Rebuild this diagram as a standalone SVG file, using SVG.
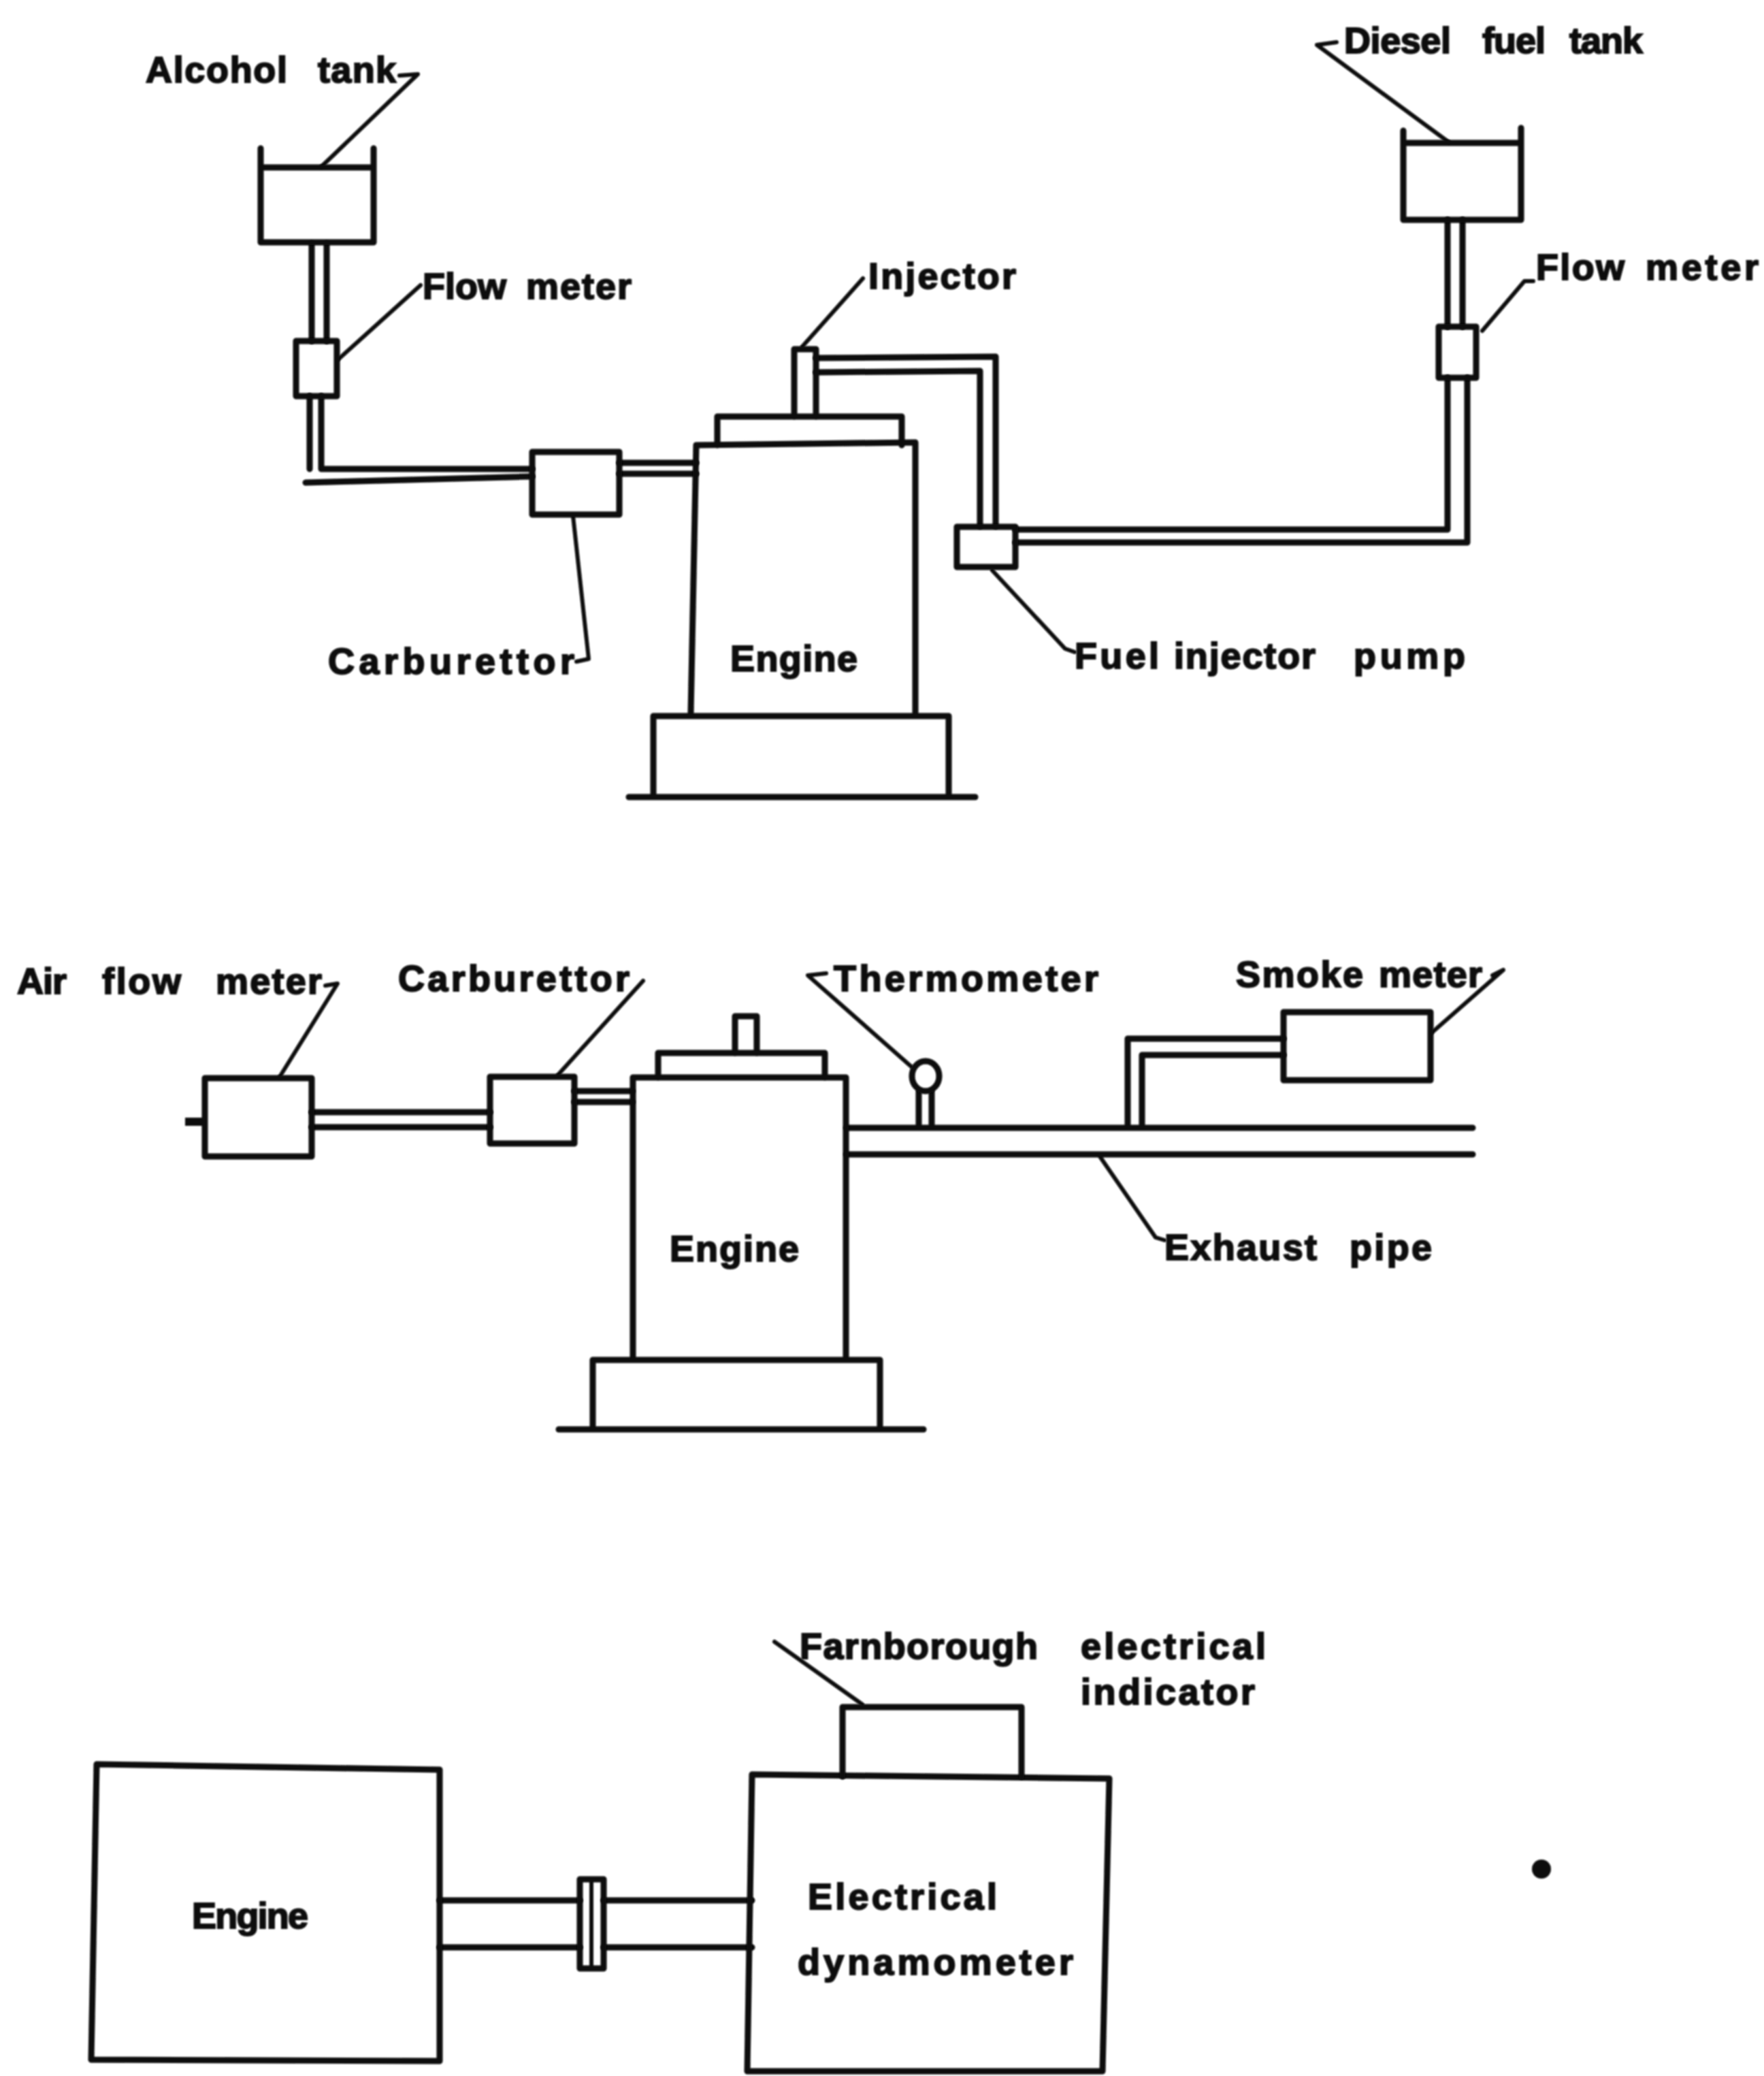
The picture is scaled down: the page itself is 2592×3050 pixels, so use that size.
<svg xmlns="http://www.w3.org/2000/svg" width="2592" height="3050" viewBox="0 0 2592 3050">
<defs><filter id="soft" x="0" y="0" width="2592" height="3050" filterUnits="userSpaceOnUse"><feGaussianBlur stdDeviation="0.9"/></filter></defs>
<style>
g{filter:url(#soft)}
.s{fill:none;stroke:#0a0a0a;stroke-width:9;stroke-linejoin:round;stroke-linecap:round}
.t{fill:none;stroke:#0a0a0a;stroke-width:6;stroke-linejoin:round;stroke-linecap:round}
.l{font-family:"Liberation Sans",Arial,sans-serif;font-weight:700;font-size:54px;fill:#0a0a0a;stroke:#0a0a0a;stroke-width:2}
</style>
<rect width="2592" height="3050" fill="#fff"/>
<g id="connectors">
<path class="s" d="M458 358V501M480 358V501M455 582V689M472 582V689H782M449 709L782 700M910 680H1023M910 696H1023"/>
<path class="s" d="M1199 526L1463 524V773M1199 547L1440 545V773M1492 778H2127V555M1492 797H2156V555M2127 323V480M2149 323V480"/>
<path class="t" d="M587 111L614 109L472 245M618 419L497 528M1268 409L1179 509M842 758L865 968L847 972"/>
<path class="t" d="M1964 62L1935 66L2129 209M2253 413H2240L2178 486M1458 838L1565 953L1579 958"/>
<path class="s" d="M458 1634H720M458 1656H720M844 1603H929M844 1619H929M1244 1657H2164M1244 1696H2164M1657 1653V1526H1886M1678 1657V1550H1886M1350 1604V1655M1369 1604V1655"/>
<path class="t" d="M478 1448L496 1445L411 1582M945 1441L820 1579M1214 1430L1187 1433L1339 1567M2193 1433L2209 1425L2104 1517M1614 1696L1698 1818L1711 1822"/>
<path class="s" d="M646 2792H852M646 2861H852M887 2792H1105M887 2861H1105"/>
<path class="t" d="M1138 2412L1267 2504"/>
</g>
<g id="alcohol-tank"><path class="s" d="M383 218V356H549V218M383 246L549 246"/></g>
<g id="flow-meter-left"><rect class="s" x="435" y="501" width="60" height="81"/></g>
<g id="carburettor-top"><rect class="s" x="782" y="664" width="128" height="92"/></g>
<g id="engine-top">
<path class="s" d="M1015 1048L1023 654L1345 650V1048"/>
<path class="s" d="M1054 654V612H1325V654"/>
<path class="s" d="M1167 612V513H1199V612"/>
<path class="s" d="M960 1169V1052H1394V1169"/>
<path class="s" d="M924 1171H1433"/>
</g>
<g id="fuel-injector-pump"><rect class="s" x="1406" y="774" width="86" height="59"/></g>
<g id="diesel-tank"><path class="s" d="M2062 192V323H2235V188M2062 210H2235"/></g>
<g id="flow-meter-right"><rect class="s" x="2114" y="480" width="55" height="75"/></g>
<g id="air-flow-meter"><rect class="s" x="301" y="1584" width="157" height="115"/><path d="M272 1642H301V1654H272Z" fill="#0a0a0a"/></g>
<g id="carburettor-mid"><rect class="s" x="720" y="1582" width="124" height="98"/></g>
<g id="engine-mid">
<path class="s" d="M930 1996V1583H1243V1996"/>
<path class="s" d="M967 1583V1547H1212V1583"/>
<path class="s" d="M1080 1547V1493H1112V1547"/>
<path class="s" d="M871 2099V1998H1293V2099"/>
<path class="s" d="M821 2100H1357"/>
</g>
<g id="thermometer"><ellipse class="s" cx="1360" cy="1581" rx="20" ry="22"/></g>
<g id="smoke-meter"><rect class="s" x="1886" y="1487" width="216" height="100"/></g>
<g id="engine-bottom"><path class="s" d="M134 3026L142 2592L646 2600V3028Z"/></g>
<g id="coupling"><rect class="s" x="852" y="2761" width="35" height="131"/><path class="t" d="M869 2761V2892"/></g>
<g id="dynamometer"><path class="s" d="M1098 3043L1105 2607L1630 2613L1620 3043Z"/></g>
<g id="indicator"><path class="s" d="M1238 2610V2508H1501V2610"/></g>
<g id="dot"><circle cx="2265" cy="2746" r="14" fill="#0a0a0a"/></g>
<g id="labels">
<text class="l" y="121"><tspan x="214" textLength="208" lengthAdjust="spacing">Alcohol</tspan> <tspan x="467" textLength="115" lengthAdjust="spacing">tank</tspan></text>
<text class="l" y="78"><tspan x="1975" textLength="157" lengthAdjust="spacing">Diesel</tspan> <tspan x="2178" textLength="93" lengthAdjust="spacing">fuel</tspan> <tspan x="2306" textLength="108" lengthAdjust="spacing">tank</tspan></text>
<text class="l" y="439"><tspan x="621" textLength="123" lengthAdjust="spacing">Flow</tspan> <tspan x="773" textLength="155" lengthAdjust="spacing">meter</tspan></text>
<text class="l" x="1276" y="424" textLength="217" lengthAdjust="spacing">Injector</text>
<text class="l" y="411"><tspan x="2257" textLength="130" lengthAdjust="spacing">Flow</tspan> <tspan x="2418" textLength="166" lengthAdjust="spacing">meter</tspan></text>
<text class="l" x="482" y="990" textLength="362" lengthAdjust="spacing">Carburettor</text>
<text class="l" x="1073" y="986" textLength="187" lengthAdjust="spacing">Engine</text>
<text class="l" y="982"><tspan x="1579" textLength="124" lengthAdjust="spacing">Fuel</tspan> <tspan x="1725" textLength="208" lengthAdjust="spacing">injector</tspan> <tspan x="1989" textLength="164" lengthAdjust="spacing">pump</tspan></text>
<text class="l" y="1460"><tspan x="25" textLength="73" lengthAdjust="spacing">Air</tspan> <tspan x="150" textLength="116" lengthAdjust="spacing">flow</tspan> <tspan x="317" textLength="156" lengthAdjust="spacing">meter</tspan></text>
<text class="l" x="585" y="1456" textLength="340" lengthAdjust="spacing">Carburettor</text>
<text class="l" x="1225" y="1456" textLength="389" lengthAdjust="spacing">Thermometer</text>
<text class="l" y="1450"><tspan x="1816" textLength="187" lengthAdjust="spacing">Smoke</tspan> <tspan x="2026" textLength="152" lengthAdjust="spacing">meter</tspan></text>
<text class="l" x="984" y="1853" textLength="190" lengthAdjust="spacing">Engine</text>
<text class="l" y="1851"><tspan x="1711" textLength="224" lengthAdjust="spacing">Exhaust</tspan> <tspan x="1983" textLength="121" lengthAdjust="spacing">pipe</tspan></text>
<text class="l" y="2437"><tspan x="1175" textLength="350" lengthAdjust="spacing">Farnborough</tspan> <tspan x="1588" textLength="272" lengthAdjust="spacing">electrical</tspan></text>
<text class="l" x="1588" y="2504" textLength="256" lengthAdjust="spacing">indicator</text>
<text class="l" x="282" y="2833" textLength="171" lengthAdjust="spacing">Engine</text>
<text class="l" x="1187" y="2805" textLength="278" lengthAdjust="spacing">Electrical</text>
<text class="l" x="1172" y="2901" textLength="405" lengthAdjust="spacing">dynamometer</text>
</g>
</svg>
